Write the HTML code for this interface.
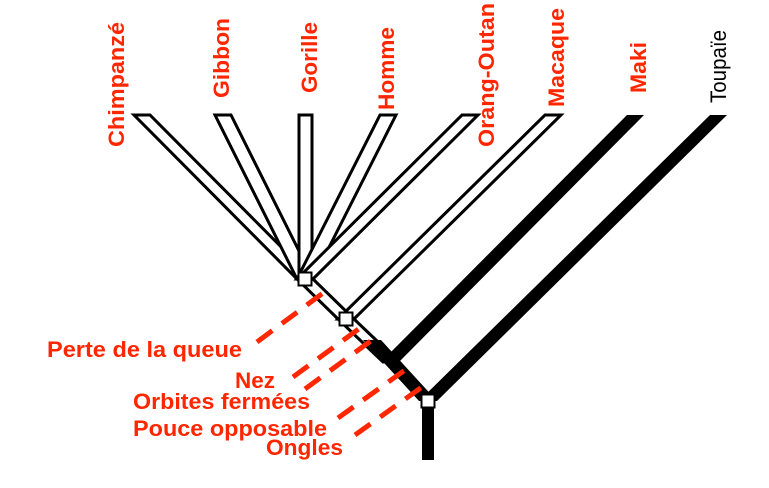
<!DOCTYPE html>
<html>
<head>
<meta charset="utf-8">
<style>
html,body{margin:0;padding:0;background:#fff;}
body{width:769px;height:488px;overflow:hidden;}
svg{display:block;}
text{font-family:"Liberation Sans",Arial,sans-serif;font-size:22px;}
.r{fill:#ff2600;font-weight:bold;}
.k{fill:#000;font-weight:normal;}
</style>
</head>
<body>
<svg width="769" height="488" viewBox="0 0 769 488" xmlns="http://www.w3.org/2000/svg">
  <!-- outlined branches -->
  <g fill="#fff" stroke="#000" stroke-width="3" stroke-linejoin="miter">
    <polygon points="134,115 150,115 313,279 297,279"/>
    <polygon points="215,115 231,115 313,279 297,279"/>
    <polygon points="299,115 312,115 312,279 299,279"/>
    <polygon points="380,115 396,115 313,279 297,279"/>
    <polygon points="462,115 478,115 313,279 297,279"/>
    <polygon points="545,115 561,115 354,319 338,319"/>
    <!-- stem node1 -> node2 -->
    <polygon points="297,279 313,279 354,319 338,319"/>
    <!-- stem node2 -> node3 -->
    <polygon points="338,319 354,319 399,362 383,362"/>
  </g>
  <!-- black thick branches -->
  <g fill="#000">
    <polygon points="627,115 644,115 399,362 381,362"/>
    <polygon points="710,115 727,115 437,401 419,401"/>
    <polygon points="363,340 381,340 437,401 419,401"/>
    <rect x="422" y="401" width="12" height="59"/>
  </g>
  <!-- red dashed lines -->
  <g stroke="#ff2600" stroke-width="5" stroke-dasharray="19 12" fill="none">
    <line x1="257" y1="342" x2="323" y2="293"/>
    <line x1="293" y1="377" x2="360" y2="328"/>
    <line x1="305" y1="389" x2="372" y2="340"/>
    <line x1="338" y1="418" x2="405" y2="370"/>
    <line x1="355" y1="435" x2="422" y2="387"/>
  </g>
  <!-- nodes -->
  <g fill="#fff" stroke="#000" stroke-width="2">
    <rect x="298.5" y="272.5" width="13" height="13"/>
    <rect x="339.5" y="312.5" width="13" height="13"/>
    <rect x="421.5" y="394.5" width="13" height="13"/>
  </g>
  <!-- top labels -->
  <text class="r" transform="translate(124,147) rotate(-90)" textLength="125" lengthAdjust="spacingAndGlyphs">Chimpanzé</text>
  <text class="r" transform="translate(229,98) rotate(-90)" textLength="80" lengthAdjust="spacingAndGlyphs">Gibbon</text>
  <text class="r" transform="translate(317,93) rotate(-90)" textLength="71" lengthAdjust="spacingAndGlyphs">Gorille</text>
  <text class="r" transform="translate(394,110) rotate(-90)" textLength="83" lengthAdjust="spacingAndGlyphs">Homme</text>
  <text class="r" transform="translate(494,147) rotate(-90)" textLength="144" lengthAdjust="spacingAndGlyphs">Orang-Outan</text>
  <text class="r" transform="translate(564,107) rotate(-90)" textLength="99" lengthAdjust="spacingAndGlyphs">Macaque</text>
  <text class="r" transform="translate(646,93) rotate(-90)" textLength="51" lengthAdjust="spacingAndGlyphs">Maki</text>
  <text class="k" transform="translate(726,103) rotate(-90)" textLength="73" lengthAdjust="spacingAndGlyphs">Toupaïe</text>
  <!-- bottom labels -->
  <text class="r" x="47" y="357" textLength="195" lengthAdjust="spacingAndGlyphs">Perte de la queue</text>
  <text class="r" x="235" y="388" textLength="40" lengthAdjust="spacingAndGlyphs">Nez</text>
  <text class="r" x="133" y="409" textLength="177" lengthAdjust="spacingAndGlyphs">Orbites fermées</text>
  <text class="r" x="133" y="436" textLength="194" lengthAdjust="spacingAndGlyphs">Pouce opposable</text>
  <text class="r" x="266" y="455" textLength="77" lengthAdjust="spacingAndGlyphs">Ongles</text>
</svg>
</body>
</html>
